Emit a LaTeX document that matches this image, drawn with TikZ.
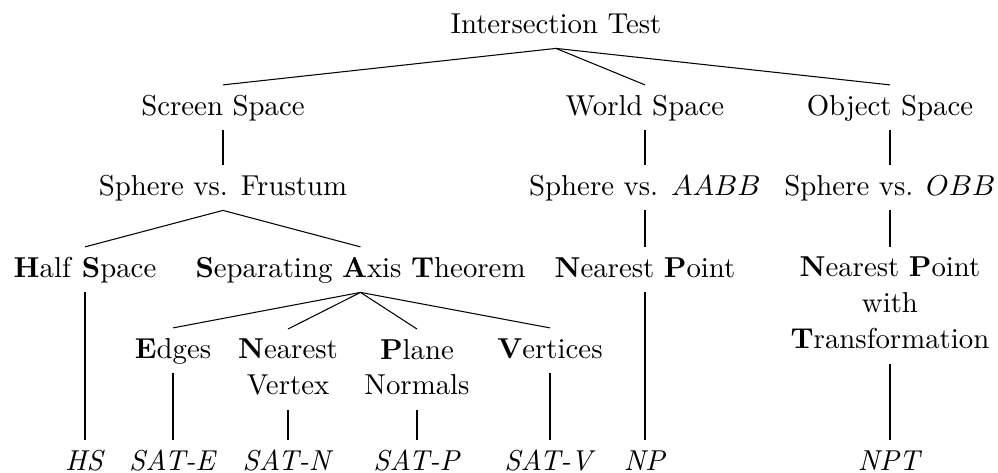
\documentclass[tikz,border=0pt]{standalone}
\begin{document}
\begin{tikzpicture}[x=0.3802pt, y=-0.3802pt,
  font=\fontsize{10.95}{13.6}\selectfont,
  every node/.style={inner sep=3.65pt},
  lbl/.style={anchor=base, text height=7.6pt, text depth=2pt},
  multi/.style={anchor=north, align=center, text depth=2pt},
  branch/.style={draw=black, line width=0.4pt}]
\useasboundingbox (0,0) rectangle (998,472);

% top levels
\node[lbl] (root) at (556,33) {Intersection Test};
\node[lbl] (ss) at (223,115) {Screen Space};
\node[lbl] (ws) at (645,115) {World Space};
\node[lbl] (os) at (890,115) {Object Space};

\node[lbl] (sf) at (223,195) {Sphere vs. Frustum};
\node[lbl] (sa) at (645,195) {Sphere vs. $AABB$};
\node[lbl] (so) at (890,195) {Sphere vs. $OBB$};

\node[lbl] (hs) at (85,277) {\textbf{H}alf \textbf{S}pace};
\node[lbl] (sat) at (360.5,277) {\textbf{S}eparating \textbf{A}xis \textbf{T}heorem};
\node[lbl] (np) at (645,277) {\textbf{N}earest \textbf{P}oint};
\node[multi] (npt) at (890,247) {\textbf{N}earest \textbf{P}oint\\with\\\textbf{T}ransformation};

\node[lbl] (e) at (173,358) {\textbf{E}dges};
\node[multi] (nv) at (288,329) {\textbf{N}earest\\Vertex};
\node[multi] (pn) at (417,329) {\textbf{P}lane\\Normals};
\node[lbl] (v) at (550,358) {\textbf{V}ertices};

% leaves
\node[lbl] (lhs) at (85,470) {\textit{HS}};
\node[lbl] (le) at (173,470) {\textit{SAT-E}};
\node[lbl] (ln) at (288,470) {\textit{SAT-N}};
\node[lbl] (lp) at (417,470) {\textit{SAT-P}};
\node[lbl] (lv) at (550,470) {\textit{SAT-V}};
\node[lbl] (lnp) at (645,470) {\textit{NP}};
\node[lbl] (lnpt) at (890,470) {\textit{NPT}};

% branches
\foreach \c in {ss,ws,os} \draw[branch] (root.south) -- (\c.north);
\draw[branch] (ss.south) -- (sf.north);
\draw[branch] (ws.south) -- (sa.north);
\draw[branch] (os.south) -- (so.north);
\draw[branch] (sf.south) -- (hs.north);
\draw[branch] (sf.south) -- (sat.north);
\draw[branch] (sa.south) -- (np.north);
\draw[branch] (so.south) -- (npt.north);
\foreach \c in {e,nv,pn,v} \draw[branch] (sat.south) -- (\c.north);
\draw[branch] (hs.south) -- (lhs.north);
\draw[branch] (e.south) -- (le.north);
\draw[branch] (nv.south) -- (ln.north);
\draw[branch] (pn.south) -- (lp.north);
\draw[branch] (v.south) -- (lv.north);
\draw[branch] (np.south) -- (lnp.north);
\draw[branch] (npt.south) -- (lnpt.north);
\end{tikzpicture}
\end{document}
